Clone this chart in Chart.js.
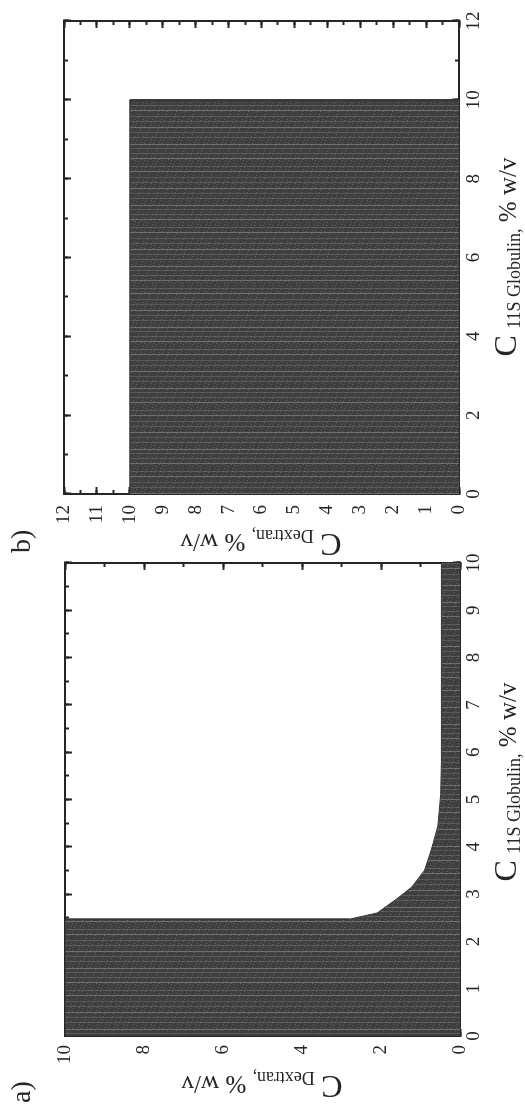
<!DOCTYPE html>
<html>
<head>
<meta charset="utf-8">
<script src="https://cdn.jsdelivr.net/npm/chart.js@4.4.1/dist/chart.umd.min.js"></script>
<style>
  html, body { margin: 0; padding: 0; background: #fff; width: 525px; height: 1107px; overflow: hidden; }
  /* the two panels are laid out side by side and the whole figure is turned a quarter turn */
  #fig {
    position: absolute; left: 0; top: 0; width: 1107px; height: 525px;
    transform-origin: 0 0; transform: translate(0, 1107px) rotate(-90deg);
    font-family: 'Liberation Serif', 'Times New Roman', serif; color: #252525;
  }
  #fig canvas { position: absolute; top: 0; }
  #ca { left: 0; }
  #cb { left: 580px; }
  .panel { position: absolute; font-size: 28px; line-height: 1; white-space: nowrap; }
  .title { position: absolute; white-space: nowrap; line-height: 1; font-size: 25px; }
  .title .big { font-size: 32px; }
  .title .sub { font-size: 18px; position: relative; top: 4px; }
  .title .main { font-size: 25px; }
  .xtitle { transform: translateX(-50%); }
  .ytitle { transform: translate(-50%, -50%) rotate(-90deg); }
</style>
</head>
<body>
<div id="fig">
  <canvas id="ca" width="580" height="525" style="width:580px;height:525px"></canvas>
  <canvas id="cb" width="527" height="525" style="width:527px;height:525px"></canvas>

  <div class="panel" style="left:4px;top:7px">a)</div>
  <div class="panel" style="left:554px;top:7px">b)</div>

  <div class="title xtitle" style="left:325px;top:489px"><span class="big">C</span> <span class="sub">11S Globulin,</span> <span class="main">% w/v</span></div>
  <div class="title ytitle" style="left:20px;top:262px"><span class="big">C</span> <span class="sub">Dextran,</span> <span class="main">% w/v</span></div>

  <div class="title xtitle" style="left:850px;top:489px"><span class="big">C</span> <span class="sub">11S Globulin,</span> <span class="main">% w/v</span></div>
  <div class="title ytitle" style="left:562px;top:261px"><span class="big">C</span> <span class="sub">Dextran,</span> <span class="main">% w/v</span></div>
</div>

<script>
// Panel a: boundary of the shaded region, C 11S Globulin (x) vs C Dextran (y), % w/v
const globulinA = [0, 2.47, 2.47, 2.6, 2.9, 3.15, 3.5, 3.85, 4.1, 4.45, 5.1, 5.8, 10];
const dextranA  = [10, 10, 2.8, 2.1, 1.6, 1.22, 0.9, 0.76, 0.67, 0.56, 0.49, 0.47, 0.47];

// Panel b: shaded region corners
const globulinB = [0, 10, 10];
const dextranB  = [10, 10, 0];

// Axis ranges and tick spacing (label step, minor step)
const axisA = { xMax: 10, xStep: 1, xMinor: 0.5, yMax: 10, yStep: 2, yMinor: 1 };
const axisB = { xMax: 12, xStep: 2, xMinor: 1, yMax: 12, yStep: 1, yMinor: 0.5 };

const INK = '#262626';
const FONT = "'Liberation Serif', 'Times New Roman', serif";

// Dark scanned-looking fill: grey base with thin lighter streaks
function makeShade() {
  const c = document.createElement('canvas');
  c.width = 61; c.height = 9;
  const g = c.getContext('2d');
  g.fillStyle = '#3f3f3f';
  g.fillRect(0, 0, c.width, c.height);
  const streaks = [2, 7, 12, 16, 23, 28, 33, 39, 44, 50, 55];
  streaks.forEach((col, k) => {
    g.fillStyle = k % 3 === 0 ? 'rgba(170,170,170,0.45)' : 'rgba(150,150,150,0.3)';
    g.fillRect(col, 0, 1, c.height);
  });
  for (let i = 0; i < c.width; i++) {
    for (let j = 0; j < c.height; j++) {
      if ((i * 7 + j * 13) % 17 === 0) {
        g.fillStyle = 'rgba(200,200,200,0.25)';
        g.fillRect(i, j, 1, 1);
      }
    }
  }
  return g.createPattern(c, 'repeat');
}

function toPoints(xs, ys) { return xs.map((x, i) => ({ x: x, y: ys[i] })); }

// Axis carrying tick labels and the long inward tick marks
function labelAxis(axis, pos, max, step, pad, size) {
  const horiz = axis === 'x';
  return {
    type: 'linear', axis: axis, position: pos, min: 0, max: max, weight: 1,
    ticks: { stepSize: step, padding: pad, color: INK, autoSkip: false, maxRotation: 0,
             font: { family: FONT, size: 19 } },
    grid: { drawOnChartArea: false, drawTicks: true, tickLength: -7, tickWidth: 2, tickColor: INK },
    border: { display: true, color: INK, width: 2 },
    afterFit: s => { if (horiz) s.height = size; else s.width = size; }
  };
}

// Zero-size axis drawing only inward tick marks (major or minor) on one side
function markAxis(axis, pos, max, step, len, withBorder) {
  const horiz = axis === 'x';
  return {
    type: 'linear', axis: axis, position: pos, min: 0, max: max, weight: 0,
    ticks: { display: false, stepSize: step },
    grid: { drawOnChartArea: false, drawTicks: true, tickLength: -len, tickWidth: 2, tickColor: INK },
    border: { display: withBorder, color: INK, width: 2 },
    afterFit: s => { if (horiz) s.height = 0; else s.width = 0; }
  };
}

function panel(canvasId, xs, ys, ax, geom) {
  const ctx = document.getElementById(canvasId).getContext('2d');
  return new Chart(ctx, {
    type: 'scatter',
    data: {
      datasets: [{
        data: toPoints(xs, ys),
        showLine: true,
        fill: 'origin',
        tension: 0,
        pointRadius: 0,
        borderColor: '#363636',
        borderWidth: 1,
        backgroundColor: makeShade()
      }]
    },
    options: {
      responsive: false,
      animation: false,
      devicePixelRatio: 1,
      events: [],
      layout: { autoPadding: false, padding: { top: geom.top, right: geom.right, left: 0, bottom: 0 } },
      plugins: { legend: { display: false }, tooltip: { enabled: false } },
      scales: {
        x:   labelAxis('x', 'bottom', ax.xMax, ax.xStep, geom.xPad, geom.xSize),
        xm:  markAxis('x', 'bottom', ax.xMax, ax.xMinor, 4, false),
        xt:  markAxis('x', 'top', ax.xMax, ax.xStep, 7, true),
        xtm: markAxis('x', 'top', ax.xMax, ax.xMinor, 4, false),
        y:   labelAxis('y', 'left', ax.yMax, ax.yStep, geom.yPad, geom.ySize),
        ym:  markAxis('y', 'left', ax.yMax, ax.yMinor, 4, false),
        yr:  markAxis('y', 'right', ax.yMax, ax.yStep, 7, true),
        yrm: markAxis('y', 'right', ax.yMax, ax.yMinor, 4, false)
      }
    }
  });
}

panel('ca', globulinA, dextranA, axisA, { top: 65, right: 36, xSize: 65, ySize: 71, xPad: 10, yPad: 16 });
panel('cb', globulinB, dextranB, axisB, { top: 64, right: 21, xSize: 66, ySize: 33, xPad: 11, yPad: 18 });
</script>
</body>
</html>
